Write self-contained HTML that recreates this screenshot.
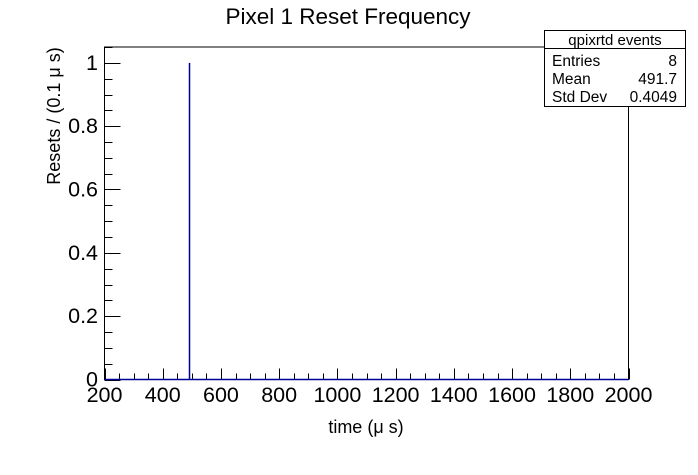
<!DOCTYPE html>
<html><head><meta charset="utf-8"><style>
body{margin:0;background:#fff;}
svg{display:block;font-family:"Liberation Sans",sans-serif;}
</style></head><body>
<svg id="c" width="698" height="475" xmlns="http://www.w3.org/2000/svg">
<rect width="698" height="475" fill="#fff"/>
<text x="348" y="24" font-size="22.5" text-anchor="middle">Pixel 1 Reset Frequency</text>
<text x="366" y="433" font-size="18" text-anchor="middle">time (μ s)</text>
<text transform="translate(60,116) rotate(-90)" font-size="18" text-anchor="middle">Resets / (0.1 μ s)</text>
<g id="axes"></g>
<g id="marks"></g>
<g>
<rect x="544.5" y="30.5" width="141" height="76" fill="#fff" stroke="#000"/>
<line x1="544.5" y1="48.5" x2="685.5" y2="48.5" stroke="#000"/>
<text x="615" y="45" font-size="15" text-anchor="middle">qpixrtd events</text>
<text x="552" y="66" font-size="15.5">Entries</text><text x="677" y="66" font-size="15.5" text-anchor="end">8</text>
<text x="552" y="84" font-size="15.5">Mean</text><text x="677" y="84" font-size="15.5" text-anchor="end">491.7</text>
<text x="552" y="102" font-size="15.5">Std Dev</text><text x="677" y="102" font-size="15.5" text-anchor="end">0.4049</text>
</g>
</svg>
<script>
const xTicks=[200,400,600,800,1000,1200,1400,1600,1800,2000];
const yTicks=[0,0.2,0.4,0.6,0.8,1];
const yTickLabels=["0","0.2","0.4","0.6","0.8","1"];
const binCenters=[492];
const binCounts=[1];
const X0=104.5,X1=628.5,Y0=379.5,Y1=47;
const xmin=200,xmax=2000,ymin=0,ymax=1.05;
const sx=v=>X0+(v-xmin)/(xmax-xmin)*(X1-X0);
const sy=v=>Y0-(v-ymin)/(ymax-ymin)*(Y0-Y1);
const NS="http://www.w3.org/2000/svg";
const axes=document.getElementById('axes'),marks=document.getElementById('marks');
function mk(p,t,a){const e=document.createElementNS(NS,t);for(const k in a)e.setAttribute(k,a[k]);p.appendChild(e);return e;}
const fr=mk(axes,'rect',{x:X0,y:Y1,width:X1-X0,height:Y0-Y1,fill:'none',stroke:'#000'});


for(let v=xmin;v<=xmax;v+=50){const maj=(v%200===0);const x=Math.round(sx(v))+0.5;
 const t=mk(axes,'line',{x1:x,x2:x,y1:Y0,y2:Y0-(maj?11:6),stroke:'#000'});
 
 }
xTicks.forEach(v=>{const t=mk(axes,'text',{x:sx(v),y:402,'font-size':21.5,'text-anchor':'middle'});t.textContent=v;
 
 });
for(let i=0;i<=21;i++){const v=i*0.05;const maj=(i%4===0);const y=Math.round(sy(v))+0.5;
 const t=mk(axes,'line',{x1:X0,x2:X0+(maj?16:8),y1:y,y2:y,stroke:'#000'});
 
 }
yTicks.forEach((v,i)=>{const t=mk(axes,'text',{x:98,y:sy(v)+7,'font-size':21.5,'text-anchor':'end'});t.textContent=yTickLabels[i];
 
 });
let d='M'+X0+','+sy(0);
binCenters.forEach((c,i)=>{const x=Math.floor(sx(c))+0.5;d+=' L'+x+','+sy(0)+' L'+x+','+sy(binCounts[i])+' L'+x+','+sy(0);});
d+=' L'+X1+','+sy(0);
const p=mk(marks,'path',{d:d,fill:'none',stroke:'#000099','stroke-width':1.5});


</script>
</body></html>
